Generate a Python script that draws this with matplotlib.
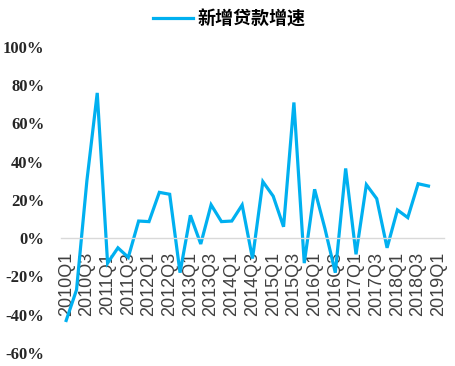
#!/usr/bin/env python3
"""New-loan growth rate by quarter, 2010Q1-2019Q1."""
import matplotlib
matplotlib.use("Agg")
import matplotlib.pyplot as plt
import numpy as np

# quarters on the category axis (last one has no value yet)
quarters = [f"{y}Q{q}" for y in range(2010, 2020) for q in range(1, 5)][:37]
growth_pct = [
    -43, -27, 30, 76, -13, -5, -10, 9, 8.7, 24,
    23, -18, 12, -3, 17.5, 8.7, 9, 17.4, -10.6, 29.6,
    22, 6, 71, -13, 25.6, 5, -18, 36.5, -8.4, 28,
    20.7, -5, 14.8, 10.8, 28.5, 27.3, np.nan,
]
yticks = [-60, -40, -20, 0, 20, 40, 60, 80, 100]
series_name = "新增贷款增速"

BLUE = "#00B0F0"

fig = plt.figure(figsize=(4.55, 3.66), dpi=100)
ax = fig.add_axes([61 / 455, 13 / 366, 383 / 455, 306 / 366])

# spine moves reset the ticks, so do them before labelling
for side in ("top", "right", "left"):
    ax.spines[side].set_visible(False)
ax.spines["bottom"].set_position(("data", 0))
ax.spines["bottom"].set_color("#D9D9D9")
ax.spines["bottom"].set_linewidth(1.0)

x = np.arange(len(quarters))
ax.plot(x, growth_pct, color=BLUE, linewidth=2.3, label=series_name,
        solid_joinstyle="miter")

ax.set_xlim(-0.5, len(quarters) - 0.5)
ax.set_ylim(-60, 100)

ax.set_yticks(yticks)
ax.set_yticklabels([f"{v}%" for v in yticks], fontfamily="Liberation Serif",
                   fontweight="bold", fontsize=12, color="#262626")
ax.set_xticks(x[::2])
ax.set_xticklabels(quarters[::2], rotation=90, fontfamily="Liberation Sans",
                   fontsize=13, color="#404040")
ax.tick_params(axis="y", length=0, pad=12)
ax.tick_params(axis="x", length=0, pad=10)

fig.legend(loc="center", bbox_to_anchor=(229 / 455, 347 / 366), frameon=False,
           handlelength=2.2, handletextpad=0.25,
           prop={"family": ["Noto Sans CJK SC", "DejaVu Sans"],
                 "weight": "bold", "size": 13})

fig.savefig("out.png", dpi=100)
